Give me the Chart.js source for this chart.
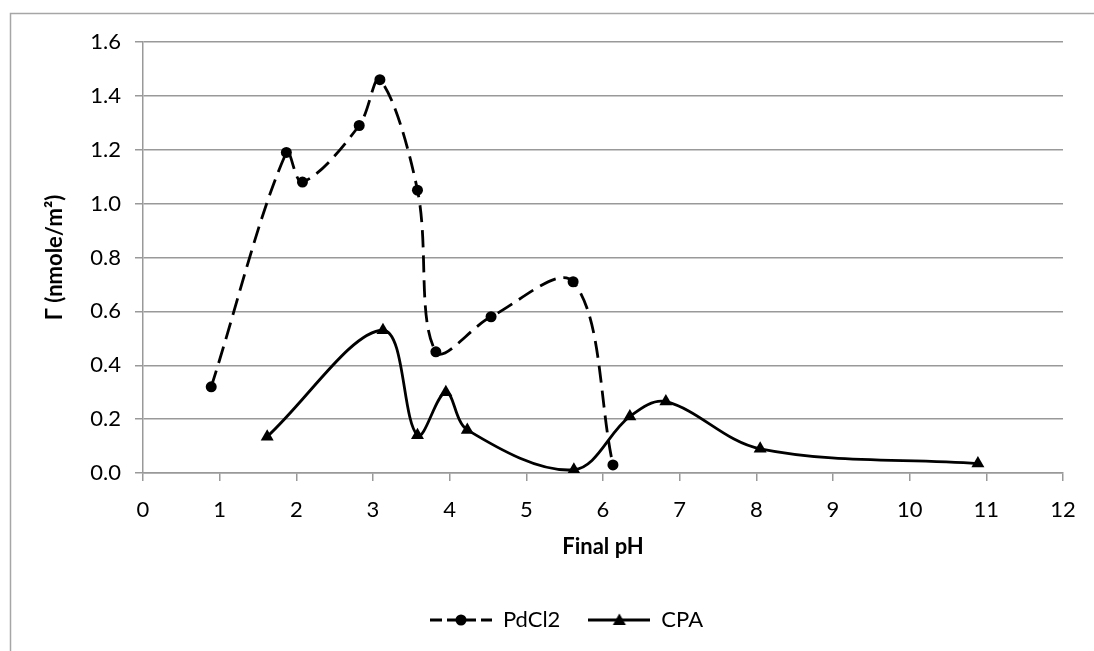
<!DOCTYPE html>
<html>
<head>
<meta charset="utf-8">
<title>Final pH chart</title>
<script src="https://cdn.jsdelivr.net/npm/chart.js@4.4.1/dist/chart.umd.min.js"></script>
<style>
  html, body { margin: 0; padding: 0; background: #fff; }
  #wrap { width: 1094px; height: 651px; }
</style>
</head>
<body>
<div id="wrap"><canvas id="phChart" width="1094" height="651"></canvas></div>
<script>
// values
const pdcl2X = [0.89, 1.87, 2.08, 2.82, 3.09, 3.58, 3.82, 4.54, 5.61, 6.13];
const pdcl2Y = [0.32, 1.19, 1.08, 1.29, 1.46, 1.05, 0.45, 0.58, 0.71, 0.03];
const cpaX = [1.62, 3.13, 3.58, 3.95, 4.23, 5.62, 6.35, 6.82, 8.05, 10.89];
const cpaY = [0.135, 0.53, 0.14, 0.30, 0.16, 0.012, 0.21, 0.265, 0.09, 0.035];
const xTicks = [0, 1, 2, 3, 4, 5, 6, 7, 8, 9, 10, 11, 12];
const yTicks = [0, 0.2, 0.4, 0.6, 0.8, 1.0, 1.2, 1.4, 1.6];
const seriesNames = ["PdCl2", "CPA"];

const gridGray = "#999999";
const fontName = "Lato, 'Open Sans', sans-serif";

function toPoints(xs, ys) {
  return xs.map((x, i) => ({ x: x, y: ys[i] }));
}

// little picture of line + marker for the legend
function legendSample(dashed, marker) {
  const c = document.createElement("canvas");
  c.width = 62;
  c.height = 16;
  const g = c.getContext("2d");
  g.strokeStyle = "#000";
  g.fillStyle = "#000";
  g.lineWidth = 2.8;
  if (dashed) g.setLineDash([12, 5]);
  g.beginPath();
  g.moveTo(0, 8);
  g.lineTo(62, 8);
  g.stroke();
  g.setLineDash([]);
  g.beginPath();
  if (marker === "circle") {
    g.arc(31, 8, 5.5, 0, Math.PI * 2);
  } else {
    g.moveTo(31, 1.5);
    g.lineTo(37.5, 13);
    g.lineTo(24.5, 13);
    g.closePath();
  }
  g.fill();
  return c;
}

const samples = [legendSample(true, "circle"), legendSample(false, "triangle")];

const frame = {
  id: "frame",
  beforeDraw(chart) {
    const ctx = chart.ctx;
    ctx.save();
    ctx.strokeStyle = "#a6a6a6";
    ctx.lineWidth = 1.5;
    ctx.beginPath();
    ctx.moveTo(10.5, 651);
    ctx.lineTo(10.5, 13.5);
    ctx.lineTo(1094, 13.5);
    ctx.stroke();
    ctx.restore();
  },
  afterLayout(chart) {
    // Excel puts the legend a little right of the canvas centre
    chart.legend.left += 30;
    chart.legend.right += 30;
  },
};

const ctx = document.getElementById("phChart").getContext("2d");

const chart = new Chart(ctx, {
  type: "scatter",
  data: {
    datasets: [
      {
        label: seriesNames[0],
        data: toPoints(pdcl2X, pdcl2Y),
        showLine: true,
        borderColor: "#000",
        backgroundColor: "#000",
        borderWidth: 2.8,
        borderDash: [17, 8],
        tension: 0.35,
        pointStyle: "circle",
        pointRadius: 5.5,
        pointBorderWidth: 0,
        pointHoverRadius: 5.5,
      },
      {
        label: seriesNames[1],
        data: toPoints(cpaX, cpaY),
        showLine: true,
        borderColor: "#000",
        backgroundColor: "#000",
        borderWidth: 2.8,
        tension: 0.35,
        pointStyle: "triangle",
        pointRadius: 7.5,
        pointBorderWidth: 0,
        pointHoverRadius: 7.5,
      },
    ],
  },
  options: {
    responsive: false,
    animation: false,
    devicePixelRatio: 1,
    layout: {
      padding: { left: 10, right: 31, top: 42, bottom: 10 },
    },
    scales: {
      x: {
        type: "linear",
        min: 0,
        max: 12,
        afterBuildTicks: (s) => {
          s.ticks = xTicks.map((v) => ({ value: v }));
        },
        afterFit: (s) => {
          s.height = 108;
        },
        ticks: {
          color: "#000",
          font: { family: fontName, size: 22 },
          padding: 16,
          maxRotation: 0,
          autoSkip: false,
        },
        grid: {
          drawOnChartArea: false,
          drawTicks: true,
          tickLength: 8,
          color: gridGray,
          lineWidth: 1.5,
        },
        border: { color: gridGray, width: 1.5 },
        title: {
          display: true,
          text: "Final pH",
          color: "#000",
          font: { family: fontName, size: 22, weight: "bold" },
          padding: { top: 4, bottom: 21 },
        },
      },
      y: {
        type: "linear",
        min: 0,
        max: 1.6,
        afterBuildTicks: (s) => {
          s.ticks = yTicks.map((v) => ({ value: v }));
        },
        afterFit: (s) => {
          s.width = 133;
        },
        ticks: {
          color: "#000",
          font: { family: fontName, size: 22 },
          padding: 14,
          callback: (v) => Number(v).toFixed(1),
        },
        grid: {
          color: gridGray,
          lineWidth: 1.5,
          tickLength: 8,
        },
        border: { color: gridGray, width: 1.5 },
        title: {
          display: true,
          text: "Γ (nmole/m²)",
          color: "#000",
          font: { family: fontName, size: 22, weight: "bold" },
          padding: { top: 32, bottom: 0 },
        },
      },
    },
    plugins: {
      legend: {
        position: "bottom",
        labels: {
          usePointStyle: true,
          pointStyleWidth: 62,
          padding: 28,
          color: "#000",
          font: { family: fontName, size: 22 },
          generateLabels: (c) =>
            c.data.datasets.map((ds, i) => ({
              text: ds.label,
              pointStyle: samples[i],
              fillStyle: "#000",
              strokeStyle: "#000",
              lineWidth: 0,
              fontColor: "#000",
              datasetIndex: i,
              hidden: false,
            })),
        },
      },
      tooltip: { enabled: false },
    },
  },
  plugins: [frame],
});
</script>
</body>
</html>
